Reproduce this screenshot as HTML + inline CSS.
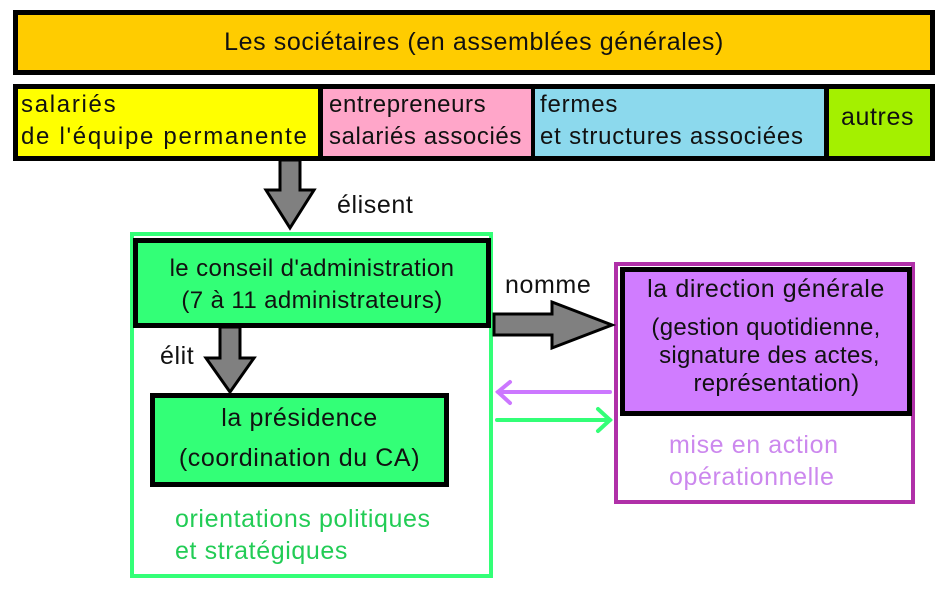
<!DOCTYPE html>
<html><head><meta charset="utf-8"><style>
body{margin:0;width:949px;height:598px;background:#fff;position:relative;overflow:hidden;font-family:"Liberation Sans",sans-serif;color:#111;}
.a{position:absolute;box-sizing:border-box;}
.t{position:absolute;white-space:nowrap;font-size:25px;line-height:32px;letter-spacing:0.6px;}
</style></head><body>
<div class="a" style="left:13px;top:10px;width:922px;height:65px;border:5px solid #000;background:#ffcc00"></div>
<div class="t" style="left:13px;width:922px;top:26px;text-align:center">Les sociétaires (en assemblées générales)</div>
<div class="a" style="left:13px;top:84px;width:922px;height:77px;background:#000"></div>
<div class="a" style="left:18px;top:89px;width:300px;height:67px;background:#ffff00"></div>
<div class="a" style="left:323px;top:89px;width:208px;height:67px;background:#ffa6c9"></div>
<div class="a" style="left:535px;top:89px;width:289px;height:67px;background:#8cd9ed"></div>
<div class="a" style="left:829px;top:89px;width:101px;height:67px;background:#a4f000"></div>
<div class="t" style="left:21px;top:89px;font-size:24px;letter-spacing:1.7px">salariés<br>de l'équipe permanente</div>
<div class="t" style="left:329px;top:89px;font-size:24px;letter-spacing:0.6px">entrepreneurs<br>salariés associés</div>
<div class="t" style="left:540px;top:89px;font-size:24px;letter-spacing:0.8px">fermes<br>et structures associées</div>
<div class="t" style="left:841px;top:101px">autres</div>

<div class="a" style="left:130px;top:232px;width:363px;height:346px;border:4px solid #33ff77"></div>
<div class="a" style="left:133px;top:238px;width:358px;height:90px;border:5px solid #000;background:#33ff77"></div>
<div class="t" style="left:133px;width:358px;top:253px;text-align:center;font-size:24px;letter-spacing:0.4px">le conseil d'administration<br>(7 à 11 administrateurs)</div>
<div class="a" style="left:150px;top:393px;width:299px;height:94px;border:5px solid #000;background:#33ff77"></div>
<div class="t" style="left:150px;width:299px;top:398px;text-align:center;line-height:40px">la présidence<br>(coordination du CA)</div>
<div class="t" style="left:175px;top:503px;color:#22cc55">orientations politiques<br>et stratégiques</div>

<div class="a" style="left:614px;top:262px;width:301px;height:242px;border:4px solid #b030a8"></div>
<div class="a" style="left:620px;top:267px;width:292px;height:149px;border:5px solid #000;background:#d07cff"></div>
<div class="t" style="left:620px;width:292px;top:273px;text-align:center">la direction générale</div>
<div class="t" style="left:620px;width:292px;top:314px;text-align:center;line-height:28px;font-size:24px;letter-spacing:0.3px">(gestion quotidienne,<br>&nbsp;signature des actes,<br>&nbsp;&nbsp;&nbsp;représentation)</div>
<div class="t" style="left:669px;top:429px;color:#cc88ee">mise en action<br>opérationnelle</div>

<div class="t" style="left:337px;top:189px">élisent</div>
<div class="t" style="left:160px;top:340px">élit</div>
<div class="t" style="left:505px;top:269px">nomme</div>

<svg class="a" style="left:0;top:0" width="949" height="598">
<polygon points="280,160 300,160 300,190 314,190 290,228 266,190 280,190" fill="#808080" stroke="#000" stroke-width="3"/>
<polygon points="220,327 240,327 240,358 254,358 230,392 206,358 220,358" fill="#808080" stroke="#000" stroke-width="3"/>
<polygon points="494,314 552,314 552,302 612,325 552,348 552,335 494,335" fill="#808080" stroke="#000" stroke-width="3"/>
<g fill="none" stroke="#cc77ff" stroke-width="4" stroke-linecap="round"><line x1="610" y1="392" x2="498" y2="392"/><polyline points="510,382 498,392 510,403"/></g>
<g fill="none" stroke="#33ff77" stroke-width="4" stroke-linecap="round"><line x1="497" y1="420" x2="610" y2="420"/><polyline points="598,409 610,420 598,431"/></g>
</svg>
</body></html>
